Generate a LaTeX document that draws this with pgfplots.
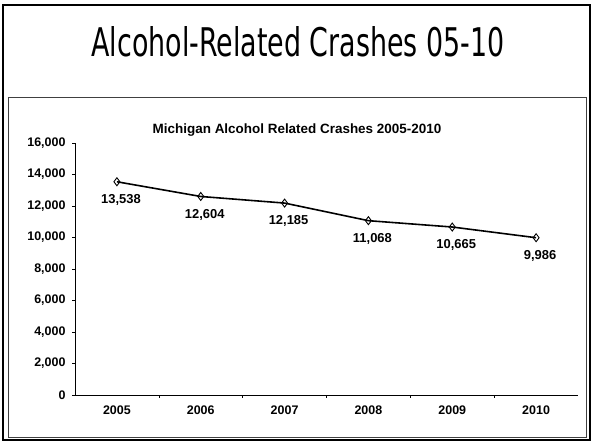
\documentclass[border=0pt]{standalone}
\usepackage{fontspec}
\setmainfont{Liberation Sans}
\newfontfamily\titlefont{DejaVu Sans}
\usepackage{graphicx}
\usepackage{pgfplots}
\pgfplotsset{compat=1.18}

\begin{document}
\begin{tikzpicture}[x=1bp,y=1bp]
\useasboundingbox (-75,-49) rectangle (519,395);
% slide frame and chart frame
\draw[line width=1.4pt] (-72,-45) rectangle (515,390);
\draw[line width=0.5pt,black!75] (-67,-42) rectangle (511,298);
\node[inner sep=0pt, anchor=base] at (223,338) {\resizebox{413bp}{30bp}{\titlefont Alcohol-Related Crashes 05-10}};
\node[font=\fontsize{13.5}{15}\selectfont\bfseries] at (222,265) {Michigan Alcohol Related Crashes 2005-2010};

\begin{axis}[
    at={(0,0)}, anchor=south west,
    scale only axis,
    width=503bp, height=252bp,
    xmin=-0.5, xmax=5.5,
    ymin=0, ymax=16000,
    axis x line*=bottom,
    axis y line*=left,
    xtick={0,...,5},
    xticklabels={2005,2006,2007,2008,2009,2010},
    minor xtick={0.5,1.5,2.5,3.5,4.5},
    major x tick style={draw=none},
    ytick={0,2000,...,16000},
    tick align=outside,
    major tick length=3bp,
    minor tick length=3bp,
    tick style={black, line width=0.6pt},
    axis line style={black, line width=0.7pt},
    ticklabel style={font=\fontsize{12.5}{14}\selectfont\bfseries},
    /pgf/number format/assume math mode=true,
    /pgf/number format/1000 sep={,},
    scaled y ticks=false,
    yticklabel style={/pgf/number format/fixed, xshift=-3bp},
    xticklabel style={yshift=-4bp},
    nodes near coords,
    every node near coord/.append style={font=\fontsize{13}{14}\selectfont\bfseries, anchor=north, xshift=4bp, yshift=-9bp, black,
        /pgf/number format/assume math mode=true, /pgf/number format/1000 sep={,}},
    clip=false,
]
\addplot[black, line width=1.6pt, mark=diamond, mark size=4bp, mark options={line width=0.9pt, fill=white}] coordinates {
    (0,13538)
    (1,12604)
    (2,12185)
    (3,11068)
    (4,10665)
    (5,9986)
};
\end{axis}
\end{tikzpicture}
\end{document}
